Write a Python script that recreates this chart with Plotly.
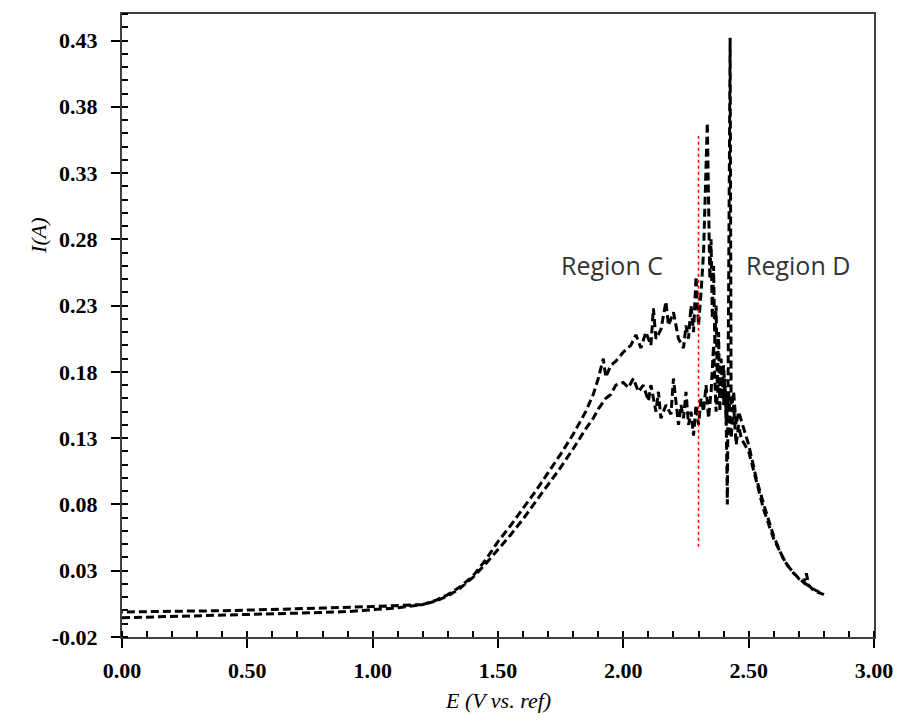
"""Polarisation curve (forward + reverse sweep) with region marker."""
import plotly.graph_objects as go

# forward sweep, 0 -> 2.8 V
E_fwd = [
    0.00, 0.10, 0.20, 0.30, 0.40, 0.50, 0.60, 0.70, 0.80, 0.90,
    1.00, 1.10, 1.20, 1.25, 1.30, 1.35, 1.40, 1.45, 1.50, 1.55,
    1.60, 1.65, 1.70, 1.75, 1.80, 1.85, 1.88, 1.90, 1.92, 1.93,
    1.95, 1.97, 2.00, 2.03, 2.05, 2.07, 2.09, 2.11, 2.12, 2.13,
    2.15, 2.17, 2.18, 2.20, 2.22, 2.24, 2.25, 2.26, 2.27, 2.28,
    2.29, 2.30, 2.31, 2.32, 2.335, 2.34, 2.345, 2.35, 2.355, 2.36,
    2.365, 2.37, 2.375, 2.38, 2.385, 2.39, 2.40, 2.405, 2.41, 2.42,
    2.43, 2.44, 2.45, 2.46, 2.47, 2.50, 2.53, 2.56, 2.60, 2.65,
    2.70, 2.75, 2.80,
]
I_fwd = [
    -0.0055, -0.0050, -0.0046, -0.0042, -0.0038, -0.0034, -0.0028, -0.0022, -0.0015, -0.0008,
    0.0005, 0.0020, 0.0045, 0.0075, 0.0120, 0.0180, 0.0260, 0.0380, 0.0520, 0.0640,
    0.0770, 0.0900, 0.1040, 0.1180, 0.1330, 0.1500, 0.1630, 0.1750, 0.1900, 0.1760,
    0.1850, 0.1880, 0.1950, 0.2000, 0.2080, 0.1980, 0.2100, 0.2000, 0.2280, 0.2050,
    0.2120, 0.2330, 0.2150, 0.2250, 0.2050, 0.1980, 0.2150, 0.2050, 0.2300, 0.2100,
    0.2520, 0.2150, 0.2400, 0.2700, 0.3680, 0.3000, 0.2500, 0.2800, 0.2200, 0.2600,
    0.2000, 0.2300, 0.1700, 0.2100, 0.1500, 0.1900, 0.1550, 0.1750, 0.1400, 0.1650,
    0.1300, 0.1550, 0.1250, 0.1400, 0.1300, 0.1200, 0.0980, 0.0760, 0.0540, 0.0350,
    0.0240, 0.0170, 0.0120,
]

# reverse sweep, 2.8 -> 0 V
E_rev = [
    2.80, 2.76, 2.74, 2.73, 2.72, 2.68, 2.64, 2.60, 2.56, 2.53,
    2.50, 2.48, 2.46, 2.45, 2.44, 2.43, 2.426, 2.415, 2.41, 2.40,
    2.39, 2.38, 2.37, 2.36, 2.35, 2.34, 2.33, 2.32, 2.31, 2.30,
    2.29, 2.28, 2.27, 2.26, 2.25, 2.24, 2.23, 2.22, 2.20, 2.19,
    2.17, 2.15, 2.14, 2.13, 2.11, 2.10, 2.08, 2.06, 2.04, 2.02,
    2.00, 1.97, 1.95, 1.93, 1.90, 1.88, 1.85, 1.80, 1.75, 1.70,
    1.65, 1.60, 1.55, 1.50, 1.45, 1.40, 1.35, 1.30, 1.25, 1.20,
    1.10, 1.00, 0.80, 0.60, 0.40, 0.20, 0.00,
]
I_rev = [
    0.0120, 0.0150, 0.0190, 0.0280, 0.0210, 0.0280, 0.0380, 0.0560, 0.0800, 0.1000,
    0.1250, 0.1380, 0.1500, 0.1400, 0.1650, 0.1500, 0.4320, 0.0800, 0.1500, 0.1850,
    0.1600, 0.1750, 0.1500, 0.2000, 0.1650, 0.1450, 0.1700, 0.1500, 0.1600, 0.1400,
    0.1550, 0.1320, 0.1500, 0.1400, 0.1650, 0.1450, 0.1550, 0.1400, 0.1750, 0.1480,
    0.1550, 0.1450, 0.1650, 0.1500, 0.1700, 0.1580, 0.1700, 0.1650, 0.1750, 0.1680,
    0.1720, 0.1700, 0.1630, 0.1600, 0.1520, 0.1450, 0.1370, 0.1220, 0.1080, 0.0950,
    0.0820, 0.0690, 0.0570, 0.0460, 0.0350, 0.0250, 0.0170, 0.0110, 0.0070, 0.0045,
    0.0035, 0.0030, 0.0018, 0.0008, -0.0002, -0.0006, -0.0012,
]

# red divider between region C and region D
divider_E = [2.30, 2.30]
divider_I = [0.048, 0.358]

region_labels = ["Region C", "Region D"]
region_E = [1.954, 2.698]
region_I = [0.261, 0.261]

x_ticks = [0.0, 0.5, 1.0, 1.5, 2.0, 2.5, 3.0]
x_ticktext = ["0.00", "0.50", "1.00", "1.50", "2.00", "2.50", "3.00"]
y_ticks = [-0.02, 0.03, 0.08, 0.13, 0.18, 0.23, 0.28, 0.33, 0.38, 0.43]
y_ticktext = ["-0.02", "0.03", "0.08", "0.13", "0.18", "0.23", "0.28", "0.33", "0.38", "0.43"]

fig = go.Figure()
fig.add_trace(
    go.Scatter(
        x=E_fwd + E_rev,
        y=I_fwd + I_rev,
        mode="lines",
        line={"color": "black", "width": 3, "dash": "8px,4px"},
        showlegend=False,
    )
)
fig.add_trace(
    go.Scatter(
        x=divider_E,
        y=divider_I,
        mode="lines",
        line={"color": "red", "width": 1.5, "dash": "dot"},
        showlegend=False,
    )
)

for label, ex, iy in zip(region_labels, region_E, region_I):
    fig.add_annotation(
        x=ex,
        y=iy,
        text=label,
        showarrow=False,
        font={"family": "Open Sans", "size": 25, "color": "#333333"},
    )

# axis titles as annotations so they sit where the original puts them
title_font = {"family": "Liberation Serif", "size": 22, "color": "black"}
fig.add_annotation(
    x=0.5, y=-0.1248, xref="paper", yref="paper",
    text="<i>E (V vs. ref)</i>", showarrow=False, font=title_font,
    yanchor="bottom",
)
fig.add_annotation(
    x=-0.111, y=0.643, xref="paper", yref="paper",
    text="<i>I(A)</i>", showarrow=False, font=title_font,
    textangle=-90, xanchor="center",
)

tick_font = {"family": "Liberation Serif", "size": 22, "color": "black"}
axis_common = dict(
    showline=True,
    linecolor="#404040",
    linewidth=2,
    mirror=True,
    showgrid=False,
    zeroline=False,
    ticks="outside",
    ticklen=9,
    tickwidth=1.5,
    tickcolor="black",
    tickfont=tick_font,
)

fig.update_xaxes(
    range=[0, 3],
    tickvals=x_ticks,
    ticktext=["<b>%s</b>" % t for t in x_ticktext],
    ticklabelstandoff=4,
    minor={"dtick": 0.1, "tick0": 0, "ticks": "inside", "ticklen": 6, "tickcolor": "black"},
    **axis_common,
)
fig.update_yaxes(
    range=[-0.02, 0.45],
    tickvals=y_ticks,
    ticktext=["<b>%s</b>" % t for t in y_ticktext],
    ticklabelstandoff=9,
    minor={"dtick": 0.01, "tick0": -0.02, "ticks": "inside", "ticklen": 6, "tickcolor": "black"},
    **axis_common,
)

fig.update_layout(
    width=889,
    height=707,
    margin={"l": 114, "r": 21, "t": 4, "b": 78},
    plot_bgcolor="white",
    paper_bgcolor="white",
)

fig.write_html("out.html")
